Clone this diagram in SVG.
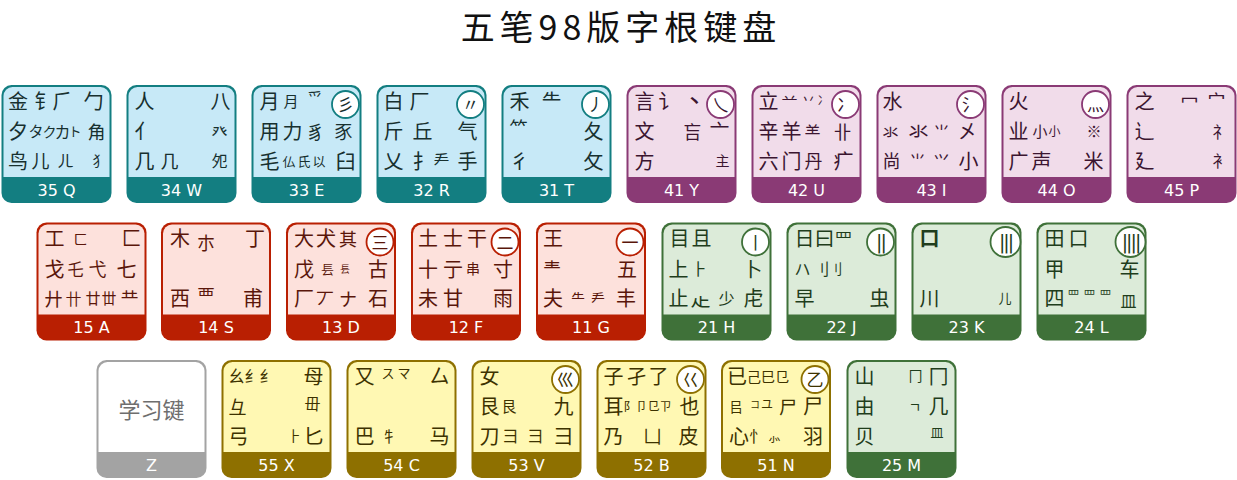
<svg xmlns="http://www.w3.org/2000/svg" width="1237" height="480" viewBox="0 0 1237 480">
<style>
text{font-family:"Noto Sans CJK SC","Noto Sans CJK JP","Noto Sans CJK KR",sans-serif;font-size:20px}
.tt{font-size:34px;text-anchor:middle;fill:#111;letter-spacing:5px}
.lb{font-family:"DejaVu Sans","Liberation Sans",sans-serif;font-size:16px;fill:#fff;text-anchor:middle}
.ci{fill:#fff;stroke-width:1.8}
.cg{font-size:17px;text-anchor:middle}
.bar{font-family:"DejaVu Sans",sans-serif;font-size:19px;text-anchor:middle;letter-spacing:-2px}
.b{font-size:18px}.d{font-size:16px}.e{font-size:15px}.f{font-size:14px}.g{font-size:13px}.h{font-size:12px}.i{font-size:10px}
.bold{font-weight:bold}
.tq{fill:#17302f}.tq .bd{fill:#137e81}.tq .bg{fill:#c7e9f7}.tq .ci{stroke:#137e81}
.ty{fill:#3b1530}.ty .bd{fill:#8a3a75}.ty .bg{fill:#f1dcea}.ty .ci{stroke:#8a3a75}
.ta{fill:#5a160a}.ta .bd{fill:#b91f02}.ta .bg{fill:#fde1dc}.ta .ci{stroke:#b91f02}
.th{fill:#1f3d1c}.th .bd{fill:#3f7139}.th .bg{fill:#dcebd9}.th .ci{stroke:#3f7139}
.tx{fill:#3d3200}.tx .bd{fill:#8e7000}.tx .bg{fill:#fff8b3}.tx .ci{stroke:#8e7000}
.tz{fill:#6e6e6e}.tz .bd{fill:#a3a3a3}.tz .bg{fill:#fff}
</style>
<defs>
<rect id="bd" width="110" height="118" rx="10"/>
<path id="bg" d="M2 92V11a9 9 0 0 1 9-9h88a9 9 0 0 1 9 9v81z"/>
</defs>
<text class="tt" x="621" y="40">五笔98版字根键盘</text>
<g id="connectors"/>

<g id="key-Q" class="tq" transform="translate(1.5 85)">
<use href="#bd" class="bd"/><use href="#bg" class="bg"/>
<text class="lb" x="55" y="110.5">35 Q</text>
<text x="6.5" y="23.5">金</text><text x="33" y="23.5">钅</text><text x="51" y="23.5">⺁</text><text x="82" y="23.5">勹</text>
<text x="6.5" y="54">夕</text><text class="e" x="27" y="52">タ</text><text class="f" x="41" y="51.5">ク</text><text class="d" x="53" y="52.5">カ</text><text class="g" x="67" y="51">ト</text><text class="b" x="86" y="53.5">角</text>
<text x="6.5" y="83.5">鸟</text><text class="b" x="30" y="83">儿</text><text class="d" x="56" y="82">ㄦ</text><text class="f" x="91" y="81">犭</text>
</g>

<g id="key-W" class="tq" transform="translate(126.5 85)">
<use href="#bd" class="bd"/><use href="#bg" class="bg"/>
<text class="lb" x="55" y="110.5">34 W</text>
<text x="8" y="23.5">人</text><text x="84" y="23.5">八</text>
<text x="8" y="54">亻</text><text class="d" x="85" y="52.5">癶</text>
<text x="8" y="83.5">几</text><text class="b" x="34" y="83">几</text><text class="d" x="85" y="82">夗</text>
</g>

<g id="key-E" class="tq" transform="translate(251.5 85)">
<use href="#bd" class="bd"/><use href="#bg" class="bg"/>
<text class="lb" x="55" y="110.5">33 E</text>
<text x="8" y="23.5">月</text><text class="e" x="32" y="22">月</text><text class="e" x="56" y="19">爫</text>
<circle class="ci" cx="94" cy="19.5" r="13.5"/><text class="cg" x="94" y="26">彡</text>
<text x="8" y="54">用</text><text x="31" y="54">力</text><text class="b" x="55" y="53.5">豸</text><text class="b" x="83" y="53.5">豕</text>
<text x="8" y="83.5">毛</text><text class="g" x="31" y="80.5">仏</text><text class="g" x="46" y="80.5">氏</text><text class="g" x="61" y="80.5">以</text><text x="84" y="83.5">臼</text>
</g>

<g id="key-R" class="tq" transform="translate(376.5 85)">
<use href="#bd" class="bd"/><use href="#bg" class="bg"/>
<text class="lb" x="55" y="110.5">32 R</text>
<text x="7" y="23.5">白</text><text x="33" y="23.5">厂</text>
<circle class="ci" cx="94" cy="19.5" r="13.5"/><text class="cg" x="94" y="26">〃</text>
<text x="7" y="54">斤</text><text x="36" y="54">丘</text><text x="81" y="54">气</text>
<text x="7" y="83.5">乂</text><text x="36" y="83.5">扌</text><text class="d" x="57" y="82">龵</text><text x="81" y="83.5">手</text>
</g>

<g id="key-T" class="tq" transform="translate(501.5 85)">
<use href="#bd" class="bd"/><use href="#bg" class="bg"/>
<text class="lb" x="55" y="110.5">31 T</text>
<text x="8" y="23.5">禾</text><text x="40" y="23.5">⺧</text>
<circle class="ci" cx="94" cy="19.5" r="13.5"/><text class="cg" x="94" y="26">丿</text>
<text class="b" x="8" y="50">⺮</text><text x="82" y="54">夂</text>
<text x="8" y="83.5">彳</text><text x="82" y="83.5">攵</text>
</g>

<g id="key-Y" class="ty" transform="translate(626.5 85)">
<use href="#bd" class="bd"/><use href="#bg" class="bg"/>
<text class="lb" x="55" y="110.5">41 Y</text>
<text x="8" y="23.5">言</text><text x="32" y="23.5">讠</text><text class="d bold" x="60" y="22">丶</text>
<circle class="ci" cx="94" cy="19.5" r="13.5"/><text class="cg" x="94" y="26">乀</text>
<text x="8" y="54">文</text><text class="b" x="57" y="53.5">吂</text><text x="83" y="54">亠</text>
<text x="8" y="83.5">方</text><text class="f" x="89" y="81">主</text>
</g>

<g id="key-U" class="ty" transform="translate(751.5 85)">
<use href="#bd" class="bd"/><use href="#bg" class="bg"/>
<text class="lb" x="55" y="110.5">42 U</text>
<text x="7" y="23.5">立</text><text class="d" x="30" y="20">䒑</text><text class="f" x="50" y="19">丷</text><text class="h" x="66" y="20">冫</text>
<circle class="ci" cx="94" cy="19.5" r="13.5"/><text class="cg" x="94" y="26">冫</text>
<text x="7" y="54">辛</text><text x="30" y="54">羊</text><text class="d" x="53" y="52.5">⺷</text><text class="b" x="82" y="53.5">卝</text>
<text x="7" y="83.5">六</text><text x="30" y="83.5">门</text><text class="b" x="53" y="83">丹</text><text x="82" y="83.5">疒</text>
</g>

<g id="key-I" class="ty" transform="translate(876.5 85)">
<use href="#bd" class="bd"/><use href="#bg" class="bg"/>
<text class="lb" x="55" y="110.5">43 I</text>
<text x="6" y="23.5">水</text>
<circle class="ci" cx="94" cy="19.5" r="13.5"/><text class="cg" x="94" y="26">氵</text>
<text class="d" x="6" y="52.5">氺</text><text x="32" y="54">氺</text><text class="d" x="57" y="52.5">⺌</text><text x="81" y="54">㐅</text>
<text class="b" x="6" y="83">尚</text><text class="d" x="33" y="82">⺌</text><text class="d" x="57" y="82">⺍</text><text x="82" y="83.5">小</text>
</g>

<g id="key-O" class="ty" transform="translate(1001.5 85)">
<use href="#bd" class="bd"/><use href="#bg" class="bg"/>
<text class="lb" x="55" y="110.5">44 O</text>
<text x="7" y="23.5">火</text>
<circle class="ci" cx="94" cy="19.5" r="13.5"/><text class="cg" x="94" y="26">灬</text>
<text x="7" y="54">业</text><text class="e" x="31" y="52">小</text><text class="h" x="47" y="51">小</text><text class="e" x="85" y="52">※</text>
<text x="7" y="83.5">广</text><text x="30" y="83.5">声</text><text x="82" y="83.5">米</text>
</g>

<g id="key-P" class="ty" transform="translate(1126.5 85)">
<use href="#bd" class="bd"/><use href="#bg" class="bg"/>
<text class="lb" x="55" y="110.5">45 P</text>
<text x="8" y="23.5">之</text><text class="b" x="54" y="23">冖</text><text class="b" x="81" y="23">宀</text>
<text x="8" y="54">辶</text><text class="d" x="86" y="52.5">礻</text>
<text x="8" y="83.5">廴</text><text class="d" x="86" y="82">衤</text>
</g>

<g id="key-A" class="ta" transform="translate(36.5 222.5)">
<use href="#bd" class="bd"/><use href="#bg" class="bg"/>
<text class="lb" x="55" y="110.5">15 A</text>
<text x="8" y="23.5">工</text><text class="f" x="37" y="21">ㄈ</text><text x="85" y="23.5">匚</text>
<text x="8" y="54">戈</text><text class="d" x="31" y="52.5">乇</text><text class="b" x="52" y="53.5">弋</text><text x="80" y="54">七</text>
<text class="b" x="8" y="83">廾</text><text class="d" x="29" y="82">卄</text><text class="e" x="49" y="81.5">廿</text><text class="e" x="65" y="81.5">丗</text><text class="b" x="84" y="83">龷</text>
</g>

<g id="key-S" class="ta" transform="translate(161 222.5)">
<use href="#bd" class="bd"/><use href="#bg" class="bg"/>
<text class="lb" x="55" y="110.5">14 S</text>
<text x="9" y="23.5">木</text><text class="b" x="36" y="27">朩</text><text x="84" y="23.5">丁</text>
<text x="9" y="83.5">西</text><text class="b" x="36" y="80">覀</text><text x="82" y="83.5">甫</text>
</g>

<g id="key-D" class="ta" transform="translate(286 222.5)">
<use href="#bd" class="bd"/><use href="#bg" class="bg"/>
<text class="lb" x="55" y="110.5">13 D</text>
<text x="8" y="23.5">大</text><text x="30" y="23.5">犬</text><text class="b" x="53" y="23">其</text>
<circle class="ci" cx="94" cy="19.5" r="13.5"/><text class="cg" x="94" y="26">三</text>
<text x="8" y="54">戊</text><text class="g" x="35" y="51">镸</text><text class="i" x="54" y="50">镸</text><text x="82" y="54">古</text>
<text x="8" y="83.5">厂</text><text class="b" x="30" y="83">丆</text><text class="b" x="53" y="83">ナ</text><text x="82" y="83.5">石</text>
</g>

<g id="key-F" class="ta" transform="translate(411 222.5)">
<use href="#bd" class="bd"/><use href="#bg" class="bg"/>
<text class="lb" x="55" y="110.5">12 F</text>
<text x="7" y="23.5">土</text><text x="32" y="23.5">士</text><text x="56" y="23.5">干</text>
<circle class="ci" cx="94" cy="19.5" r="13.5"/><text class="cg" x="94" y="26">二</text>
<text x="7" y="54">十</text><text x="32" y="54">亍</text><text class="f" x="55" y="51.5">串</text><text x="82" y="54">寸</text>
<text x="7" y="83.5">未</text><text x="32" y="83.5">甘</text><text x="82" y="83.5">雨</text>
</g>

<g id="key-G" class="ta" transform="translate(536 222.5)">
<use href="#bd" class="bd"/><use href="#bg" class="bg"/>
<text class="lb" x="55" y="110.5">11 G</text>
<text x="7" y="23.5">王</text>
<circle class="ci" cx="94" cy="19.5" r="13.5"/><text class="cg" x="94" y="26">一</text>
<text class="b" x="7" y="53.5">龶</text><text x="81" y="54">五</text>
<text x="7" y="83.5">夫</text><text class="f" x="35" y="81">⺧</text><text class="f" x="55" y="81">龵</text><text x="80" y="83.5">丰</text>
</g>

<g id="key-H" class="th" transform="translate(661.5 222.5)">
<use href="#bd" class="bd"/><use href="#bg" class="bg"/>
<text class="lb" x="55" y="110.5">21 H</text>
<text x="8" y="23.5">目</text><text x="30" y="23.5">且</text>
<circle class="ci" cx="94" cy="19.5" r="13.5"/><text class="cg" x="94" y="26">丨</text>
<text x="7" y="54">上</text><text class="d" x="30" y="52.5">⺊</text><text x="81" y="54">卜</text>
<text x="7" y="83.5">止</text><text x="29" y="83.5">龰</text><text class="d" x="57" y="82">少</text><text x="82" y="83.5">虍</text>
</g>

<g id="key-J" class="th" transform="translate(786.5 222.5)">
<use href="#bd" class="bd"/><use href="#bg" class="bg"/>
<text class="lb" x="55" y="110.5">22 J</text>
<text x="8" y="23.5">日</text><text x="28" y="23.5">曰</text><text class="b" x="48" y="23">罒</text>
<circle class="ci" cx="94" cy="19.5" r="13.5"/><text class="bar" x="94" y="26">||</text>
<text class="d" x="8" y="52.5">ハ</text><text class="d" x="27" y="52.5">刂</text><text class="f" x="42" y="51.5">刂</text>
<text x="8" y="83.5">早</text><text x="83" y="83.5">虫</text>
</g>

<g id="key-K" class="th" transform="translate(911.5 222.5)">
<use href="#bd" class="bd"/><use href="#bg" class="bg"/>
<text class="lb" x="55" y="110.5">23 K</text>
<text class="bold" x="8" y="23.5">口</text>
<circle class="ci" cx="94" cy="19.5" r="15"/><text class="bar" x="94" y="26">|||</text>
<text x="8" y="83.5">川</text><text class="g" x="87" y="80.5">儿</text>
</g>

<g id="key-L" class="th" transform="translate(1036.5 222.5)">
<use href="#bd" class="bd"/><use href="#bg" class="bg"/>
<text class="lb" x="55" y="110.5">24 L</text>
<text x="8" y="23.5">田</text><text x="32" y="23.5">口</text>
<circle class="ci" cx="94" cy="19.5" r="15"/><text class="bar" x="94" y="26">||||</text>
<text x="8" y="54">甲</text><text x="83" y="54">车</text>
<text x="8" y="83.5">四</text><text class="h" x="31" y="77">罒</text><text class="h" x="47" y="77">罒</text><text class="h" x="63" y="77">罒</text><text class="d" x="84" y="84">皿</text>
</g>

<g id="key-Z" class="tz" transform="translate(96.5 360)">
<use href="#bd" class="bd"/><use href="#bg" class="bg"/>
<text class="lb" x="55" y="110.5">Z</text>
<text x="55" y="58" style="font-size:22px;text-anchor:middle">学习键</text>
</g>

<g id="key-X" class="tx" transform="translate(221.5 360)">
<use href="#bd" class="bd"/><use href="#bg" class="bg"/>
<text class="lb" x="55" y="110.5">55 X</text>
<text class="d" x="7" y="22">幺</text><text class="d" x="23" y="22">纟</text><text class="d" x="38" y="22">纟</text><text x="82" y="23.5">母</text>
<text class="b" x="7" y="53.5">彑</text><text class="d" x="83" y="50">毌</text>
<text x="7" y="83.5">弓</text><text class="f" x="66" y="81">⺊</text><text x="82" y="83.5">匕</text>
</g>

<g id="key-C" class="tx" transform="translate(346.5 360)">
<use href="#bd" class="bd"/><use href="#bg" class="bg"/>
<text class="lb" x="55" y="110.5">54 C</text>
<text x="8" y="23.5">又</text><text class="g" x="35" y="18">ス</text><text class="g" x="51" y="18">マ</text><text x="83" y="23.5">厶</text>
<text x="8" y="83.5">巴</text><text class="e" x="35" y="81.5">牜</text><text x="83" y="83.5">马</text>
</g>

<g id="key-V" class="tx" transform="translate(471.5 360)">
<use href="#bd" class="bd"/><use href="#bg" class="bg"/>
<text class="lb" x="55" y="110.5">53 V</text>
<text x="8" y="23.5">女</text>
<circle class="ci" cx="94" cy="19.5" r="13.5"/><text class="cg" x="94" y="26">巛</text>
<text x="8" y="54">艮</text><text class="e" x="30" y="52">艮</text><text x="82" y="54">九</text>
<text x="8" y="83.5">刀</text><text class="d" x="31" y="82">⺕</text><text class="d" x="56" y="82">⺕</text><text x="82" y="83.5">彐</text>
</g>

<g id="key-B" class="tx" transform="translate(596.5 360)">
<use href="#bd" class="bd"/><use href="#bg" class="bg"/>
<text class="lb" x="55" y="110.5">52 B</text>
<text x="7" y="23.5">子</text><text x="30" y="23.5">孑</text><text x="52" y="23.5">了</text>
<circle class="ci" cx="94" cy="19.5" r="13.5"/><text class="cg" x="94" y="26">巜</text>
<text x="7" y="54">耳</text><text class="h" x="27" y="51">阝</text><text class="h" x="39" y="51">卩</text><text class="h" x="51" y="51">⺋</text><text class="h" x="63" y="51">ㄗ</text><text x="83" y="54">也</text>
<text x="7" y="83.5">乃</text><text class="b" x="47" y="83">凵</text><text x="82" y="83.5">皮</text>
</g>

<g id="key-N" class="tx" transform="translate(721 360)">
<use href="#bd" class="bd"/><use href="#bg" class="bg"/>
<text class="lb" x="55" y="110.5">51 N</text>
<text x="6" y="23.5">已</text><text class="f" x="26" y="21.5">己</text><text class="f" x="40" y="21.5">巳</text><text class="f" x="54" y="21.5">㔾</text>
<circle class="ci" cx="94" cy="19.5" r="13.5"/><text class="cg" x="94" y="26">乙</text>
<text class="f" x="8" y="51.5">㠯</text><text class="i" x="29" y="48">コ</text><text class="h" x="40" y="49">ユ</text><text class="b" x="58" y="53.5">尸</text><text x="82" y="54">尸</text>
<text x="8" y="83.5">心</text><text class="d" x="28" y="82">忄</text><text class="g" x="47" y="81">⺗</text><text x="82" y="83.5">羽</text>
</g>

<g id="key-M" class="th" transform="translate(846.5 360)">
<use href="#bd" class="bd"/><use href="#bg" class="bg"/>
<text class="lb" x="55" y="110.5">25 M</text>
<text x="8" y="23.5">山</text><text class="f" x="62" y="21">冂</text><text x="82" y="23.5">冂</text>
<text x="8" y="54">由</text><text class="f" x="62" y="51.5">ㄱ</text><text x="82" y="54">几</text>
<text x="8" y="83.5">贝</text><text class="g" x="84" y="77">皿</text>
</g>
</svg>
